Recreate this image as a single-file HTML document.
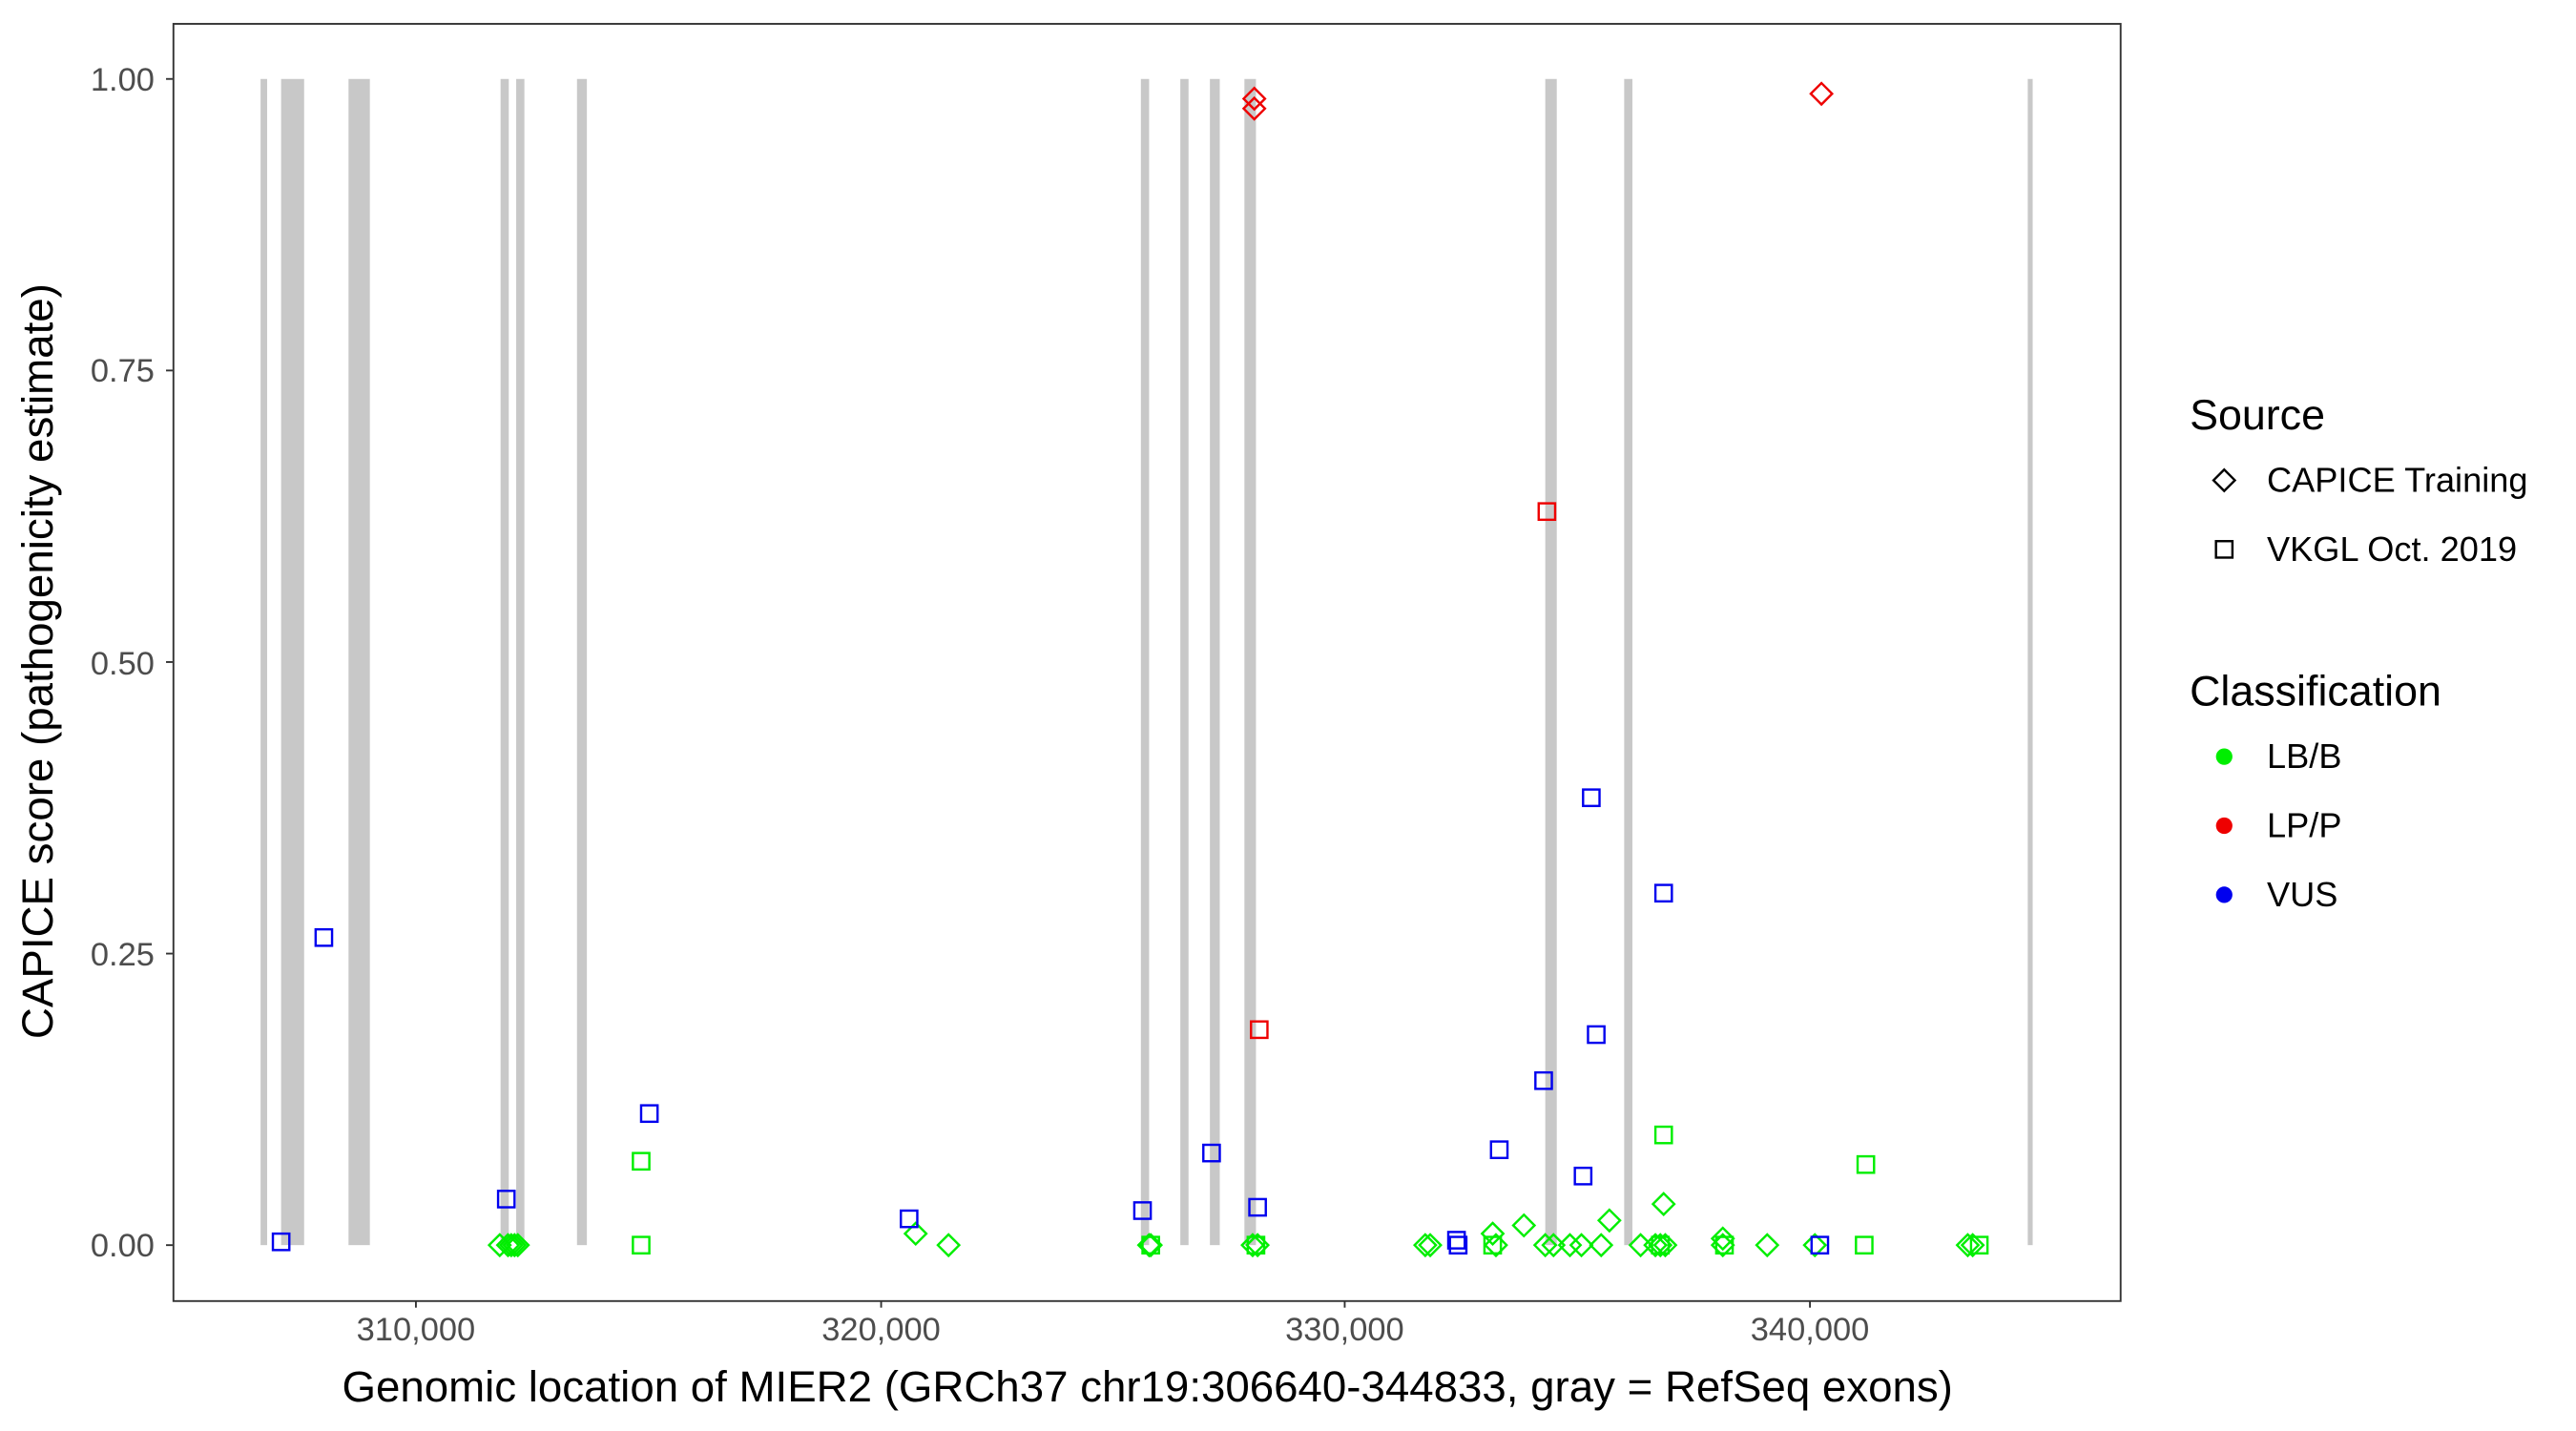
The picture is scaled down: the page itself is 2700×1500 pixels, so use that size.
<!DOCTYPE html>
<html><head><meta charset="utf-8"><style>
html,body{margin:0;padding:0;background:#fff;}
svg{display:block;}
text{font-family:"Liberation Sans",Arial,sans-serif;}
</style></head><body>
<svg width="2700" height="1500" viewBox="0 0 1567 870" preserveAspectRatio="none" xmlns="http://www.w3.org/2000/svg">
<rect x="0" y="0" width="1567" height="870" fill="#fff"/>
<g fill="#c8c8c8">
<rect x="158.5" y="48" width="4" height="709"/>
<rect x="171" y="48" width="14" height="709"/>
<rect x="212" y="48" width="13" height="709"/>
<rect x="304.5" y="48" width="5" height="709"/>
<rect x="314" y="48" width="5" height="709"/>
<rect x="351" y="48" width="6" height="709"/>
<rect x="694" y="48" width="5" height="709"/>
<rect x="718" y="48" width="5" height="709"/>
<rect x="736" y="48" width="6" height="709"/>
<rect x="757" y="48" width="7" height="709"/>
<rect x="940" y="48" width="7" height="709"/>
<rect x="988" y="48" width="5" height="709"/>
<rect x="1233.5" y="48" width="3" height="709"/>
</g>
<rect x="105.5" y="14.5" width="1184.5" height="776.5" fill="none" stroke="#333" stroke-width="1.1"/>
<g stroke="#333" stroke-width="1.1">
<line x1="101" x2="105" y1="48" y2="48"/><line x1="101" x2="105" y1="225.25" y2="225.25"/>
<line x1="101" x2="105" y1="402.5" y2="402.5"/><line x1="101" x2="105" y1="579.75" y2="579.75"/>
<line x1="101" x2="105" y1="757" y2="757"/>
<line x1="253" x2="253" y1="791" y2="795"/><line x1="536" x2="536" y1="791" y2="795"/>
<line x1="818" x2="818" y1="791" y2="795"/><line x1="1101" x2="1101" y1="791" y2="795"/>
</g>
<g font-size="20" fill="#4d4d4d" text-anchor="end">
<text x="94" y="55">1.00</text><text x="94" y="232">0.75</text><text x="94" y="410">0.50</text>
<text x="94" y="587">0.25</text><text x="94" y="764">0.00</text>
</g>
<g font-size="20" fill="#4d4d4d" text-anchor="middle">
<text x="253" y="815">310,000</text><text x="536" y="815">320,000</text>
<text x="818" y="815">330,000</text><text x="1101" y="815">340,000</text>
</g>
<text x="698" y="852" font-size="26.5" text-anchor="middle" fill="#000">Genomic location of MIER2 (GRCh37 chr19:306640-344833, gray = RefSeq exons)</text>
<text transform="translate(32,402) rotate(-90)" font-size="26.5" text-anchor="middle" fill="#000">CAPICE score (pathogenicity estimate)</text>
<defs>
<rect id="sq" x="-5" y="-5" width="10" height="10"/>
<path id="dm" d="M0,-6.5 L6.5,0 L0,6.5 L-6.5,0 Z"/>
</defs>
<g fill="none" stroke-width="1.4">
<g stroke="#00ee00">
<use href="#dm" x="304" y="757"/><use href="#dm" x="309" y="757"/><use href="#dm" x="311" y="757"/><use href="#dm" x="313" y="757"/><use href="#dm" x="315" y="757"/>
<use href="#dm" x="557" y="750"/><use href="#dm" x="577" y="757"/><use href="#dm" x="699" y="757"/><use href="#dm" x="700" y="757"/>
<use href="#dm" x="762" y="757"/><use href="#dm" x="765" y="757"/><use href="#dm" x="867" y="757"/><use href="#dm" x="870" y="757"/>
<use href="#dm" x="908" y="750"/><use href="#dm" x="910" y="757"/><use href="#dm" x="927" y="745"/><use href="#dm" x="940" y="757"/>
<use href="#dm" x="945" y="757"/><use href="#dm" x="955" y="757"/><use href="#dm" x="962" y="757"/><use href="#dm" x="974" y="757"/>
<use href="#dm" x="979" y="742"/><use href="#dm" x="998" y="757"/><use href="#dm" x="1007" y="757"/><use href="#dm" x="1010" y="757"/>
<use href="#dm" x="1013" y="757"/><use href="#dm" x="1012" y="732"/><use href="#dm" x="1048" y="753"/><use href="#dm" x="1048" y="757"/>
<use href="#dm" x="1075" y="757"/><use href="#dm" x="1104" y="757"/><use href="#dm" x="1197" y="757"/><use href="#dm" x="1200" y="757"/>
<use href="#sq" x="390" y="706"/><use href="#sq" x="390" y="757"/><use href="#sq" x="1012" y="690"/><use href="#sq" x="1135" y="708"/>
<use href="#sq" x="1134" y="757"/><use href="#sq" x="908" y="757"/><use href="#sq" x="1204" y="757"/><use href="#sq" x="1049" y="757"/>
<use href="#sq" x="700" y="757"/><use href="#sq" x="764" y="757"/><use href="#sq" x="1010" y="757"/>
</g>
<g stroke="#0000ee">
<use href="#sq" x="171" y="755"/><use href="#sq" x="197" y="570"/><use href="#sq" x="308" y="729"/><use href="#sq" x="395" y="677"/>
<use href="#sq" x="553" y="741"/><use href="#sq" x="695" y="736"/><use href="#sq" x="737" y="701"/><use href="#sq" x="765" y="734"/>
<use href="#sq" x="886" y="754"/><use href="#sq" x="887" y="757"/><use href="#sq" x="912" y="699"/><use href="#sq" x="939" y="657"/>
<use href="#sq" x="963" y="715"/><use href="#sq" x="968" y="485"/><use href="#sq" x="971" y="629"/><use href="#sq" x="1012" y="543"/>
<use href="#sq" x="1107" y="757"/>
</g>
<g stroke="#ee0000">
<use href="#sq" x="941" y="311"/><use href="#sq" x="766" y="626"/>
<use href="#dm" x="763" y="60"/><use href="#dm" x="763" y="66"/><use href="#dm" x="1108" y="57"/>
</g>
</g>
<text x="1332" y="261" font-size="26" fill="#000">Source</text>
<use href="#dm" x="1353" y="292" fill="none" stroke="#000" stroke-width="1.4"/>
<text x="1379" y="299" font-size="21" fill="#000">CAPICE Training</text>
<use href="#sq" x="1353" y="334" fill="none" stroke="#000" stroke-width="1.4"/>
<text x="1379" y="341" font-size="21" fill="#000">VKGL Oct. 2019</text>
<text x="1332" y="429" font-size="26" fill="#000">Classification</text>
<circle cx="1353" cy="460" r="5" fill="#00ee00"/><text x="1379" y="467" font-size="21" fill="#000">LB/B</text>
<circle cx="1353" cy="502" r="5" fill="#ee0000"/><text x="1379" y="509" font-size="21" fill="#000">LP/P</text>
<circle cx="1353" cy="544" r="5" fill="#0000ee"/><text x="1379" y="551" font-size="21" fill="#000">VUS</text>
</svg>
</body></html>
